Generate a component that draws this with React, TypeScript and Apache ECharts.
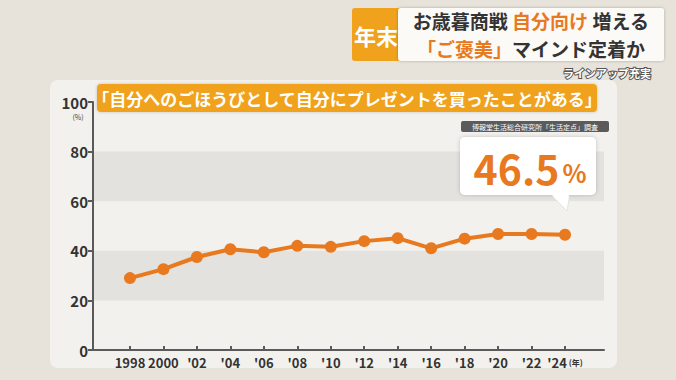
import React, { useEffect, useRef } from "react";
import * as echarts from "echarts";

const years = [1998, 2000, 2002, 2004, 2006, 2008, 2010, 2012, 2014, 2016, 2018, 2020, 2022, 2024];
const values = [29.0, 32.6, 37.5, 40.6, 39.4, 42.0, 41.6, 43.9, 45.1, 41.0, 44.9, 46.8, 46.8, 46.5];
const yTicks = [0, 20, 40, 60, 80, 100];
const FONT = "'Noto Sans CJK JP', 'Noto Sans', sans-serif";
const ORANGE = "#e8791e";

export default function App() {
  const ref = useRef<HTMLDivElement>(null);
  useEffect(() => {
    if (!ref.current) return;
    const chart = echarts.init(ref.current, undefined, { renderer: "svg" });
    const last = values[values.length - 1];
    chart.setOption({
      animation: false,
      backgroundColor: "#e7e2da",
      grid: { left: 93, right: 72, top: 102, bottom: 30 },
      xAxis: {
        type: "value",
        min: 1995.79,
        max: 2026.33,
        splitLine: { show: false },
        axisLine: { show: true, lineStyle: { color: "#5a5a5a", width: 2 } },
        axisTick: { show: true, customValues: years, length: 4, inside: true, lineStyle: { color: "#5a5a5a", width: 2 } },
        axisLabel: {
          customValues: years,
          margin: 6,
          color: "#333",
          fontSize: 13,
          fontWeight: "bold",
          fontFamily: FONT,
          formatter: (v: number) => {
            const s = v === 1998 || v === 2000 ? String(v) : "'" + String(v).slice(2);
            return v === 2024 ? "{a|" + s + "}{b| (年)}" : "{a|" + s + "}";
          },
          rich: {
            a: { fontSize: 13, fontWeight: "bold", color: "#333", fontFamily: FONT },
            b: { fontSize: 8, fontWeight: "bold", color: "#333", fontFamily: FONT },
          },
        },
      },
      yAxis: {
        type: "value",
        min: 0,
        max: 100,
        interval: 20,
        axisLine: { show: true, lineStyle: { color: "#5a5a5a", width: 2 } },
        axisTick: { show: true, length: 5, lineStyle: { color: "#5a5a5a", width: 2 } },
        splitLine: { show: false },
        splitArea: {
          show: true,
          areaStyle: { color: ["rgba(0,0,0,0)", "#e4e2de"] },
        },
        axisLabel: {
          color: "#333",
          fontSize: 15,
          fontWeight: "bold",
          fontFamily: FONT,
          margin: 5,
          formatter: (v: number) => (yTicks.includes(v) ? String(v) : ""),
        },
      },
      series: [
        {
          type: "line",
          data: years.map((y, i) => [y, values[i]]),
          lineStyle: { color: ORANGE, width: 4 },
          itemStyle: { color: ORANGE },
          symbol: "circle",
          symbolSize: 12,
          z: 5,
        },
      ],
      graphic: [
        // chart panel
        { type: "rect", z: -10, shape: { x: 50, y: 80, width: 567, height: 288, r: 8 }, style: { fill: "#f3f1ed" } },
        // banner
        { type: "rect", shape: { x: 352, y: 8, width: 50, height: 53, r: 3 }, style: { fill: "#f0a21c" } },
        { type: "text", style: { x: 376, y: 35, text: "年末", fill: "#fff", fontSize: 22, fontWeight: "bold", fontFamily: FONT, align: "center", verticalAlign: "middle" } },
        { type: "rect", shape: { x: 398, y: 8, width: 266, height: 53, r: 3 }, style: { fill: "#fbfaf7", shadowBlur: 3, shadowColor: "rgba(0,0,0,0.25)" } },
        {
          type: "text",
          style: {
            x: 531, y: 34.5,
            text: "{k|お歳暮商戦 }{o|自分向け}{k| 増える}\n{o|「ご褒美」}{k|マインド定着か}",
            align: "center", verticalAlign: "middle",
            rich: {
              k: { fontSize: 19, lineHeight: 27.5, fontWeight: "bold", fill: "#333", fontFamily: FONT },
              o: { fontSize: 19, lineHeight: 27.5, fontWeight: "bold", fill: "#e8791e", fontFamily: FONT },
            },
          },
        },
        { type: "text", style: { x: 651, y: 73, text: "ラインアップ充実", fill: "#fff", stroke: "#555", lineWidth: 2, fontSize: 11, fontWeight: "bold", fontFamily: FONT, align: "right", verticalAlign: "middle" } },
        // title box
        { type: "rect", shape: { x: 97, y: 84, width: 500, height: 28, r: 4 }, style: { fill: "#f0a21c", shadowBlur: 3, shadowColor: "rgba(0,0,0,0.2)" } },
        { type: "text", style: { x: 347, y: 98, text: "「自分へのごほうびとして自分にプレゼントを買ったことがある」", fill: "#fff", fontSize: 17, fontWeight: "bold", fontFamily: FONT, align: "center", verticalAlign: "middle" } },
        // (%)
        { type: "text", style: { x: 78, y: 117, text: "(%)", fill: "#444", fontSize: 7, fontFamily: FONT, align: "center", verticalAlign: "middle" } },
        // source
        { type: "rect", shape: { x: 461, y: 121, width: 148, height: 11, r: 2 }, style: { fill: "#5b5b5b" } },
        { type: "text", style: { x: 535, y: 126.5, text: "博報堂生活総合研究所「生活定点」調査", fill: "#fff", fontSize: 7, fontFamily: FONT, align: "center", verticalAlign: "middle" } },
        // callout
        { type: "polygon", z: 10, shape: { points: [[550, 194], [567, 211], [570, 194]] }, style: { fill: "#fff", stroke: "#ddd", lineWidth: 0.8 } },
        { type: "rect", z: 10, shape: { x: 460, y: 137, width: 136, height: 58, r: 5 }, style: { fill: "#fff", shadowBlur: 4, shadowColor: "rgba(0,0,0,0.2)" } },
        { type: "polygon", z: 11, shape: { points: [[551, 193], [566, 209], [569, 193]] }, style: { fill: "#fff" } },
        {
          type: "text",
          z: 12,
          style: {
            x: 530, y: 167,
            text: "{n|" + last.toFixed(1) + "}{p|%}",
            align: "center", verticalAlign: "middle",
            rich: {
              n: { fontSize: 41, fontWeight: "bold", fill: ORANGE, fontFamily: FONT },
              p: { fontSize: 25, fontWeight: "bold", fill: ORANGE, fontFamily: FONT, padding: [10, 0, 0, 3] },
            },
          },
        },
      ],
    });
    return () => chart.dispose();
  }, []);
  return <div ref={ref} style={{ width: 676, height: 380, position: "fixed", left: 0, top: 0 }} />;
}
